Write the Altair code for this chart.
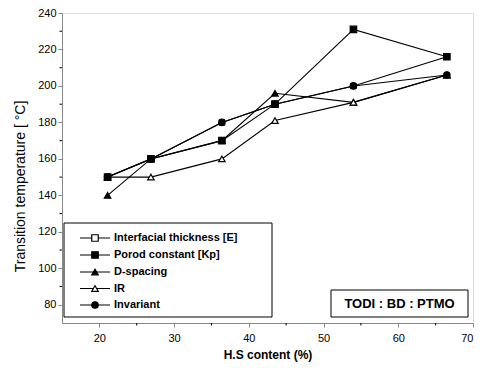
import altair as alt
import pandas as pd

# ---- data ----
hs_content = [21.1, 26.9, 36.4, 43.5, 54.0, 66.5]
series_names = ["Interfacial thickness [E]", "Porod constant [Kp]", "D-spacing", "IR", "Invariant"]
interfacial = [150, 160, 180, 190, 200, 216]
porod = [150, 160, 170, 190, 231, 216]
dspacing = [140, 160, 170, 196, 191, 206]
ir = [150, 150, 160, 181, 191, 206]
invariant = [150, 160, 180, 190, 200, 206]
shapes = ["square", "square", "triangle-up", "triangle-up", "circle"]
fills = ["white", "black", "black", "white", "black"]
marker_sizes = [24, 42, 42, 42, 42]

y_ticks = [80, 100, 120, 140, 160, 180, 200, 220, 240]
y_minor = [90, 110, 130, 150, 170, 190, 210, 230]
x_ticks = [20, 30, 40, 50, 60, 70]
x_minor = [25, 35, 45, 55, 65]
annotation = "TODI : BD : PTMO"

FONT = "Liberation Sans"
W, H = 411, 310

series_values = [interfacial, porod, dspacing, ir, invariant]

xs = alt.Scale(domain=[15, 70], nice=False, zero=False)
ys = alt.Scale(domain=[70, 240], nice=False, zero=False)
xax = alt.Axis(values=x_ticks, title="H.S content (%)", grid=False, tickSize=4,
               labelFontSize=11, titleFontSize=12, titleFontWeight="bold", titlePadding=6,
               labelPadding=5)
yax = alt.Axis(values=y_ticks, title="Transition temperature [ °C]", grid=False, tickSize=4,
               labelFontSize=11, titleFontSize=14, titleFontWeight="normal", titlePadding=10,
               labelPadding=2, titleY=173)

X = alt.X("x:Q", scale=xs, axis=xax)
Y = alt.Y("y:Q", scale=ys, axis=yax)

layers = []
# lines first, then markers (interfacial markers under the others)
for name, vals in zip(series_names, series_values):
    d = pd.DataFrame({"x": hs_content, "y": vals, "series": name})
    layers.append(alt.Chart(d).mark_line(color="black", strokeWidth=1.1).encode(x=X, y=Y, order="x:Q"))
for name, vals, shp, fl, sz in zip(series_names, series_values, shapes, fills, marker_sizes):
    d = pd.DataFrame({"x": hs_content, "y": vals, "series": name})
    layers.append(alt.Chart(d).mark_point(size=sz, opacity=1, stroke="black", strokeWidth=1.2,
                                          shape=shp, fill=fl, filled=False).encode(x=X, y=Y))

one = pd.DataFrame({"a": [0]})
layers.append(alt.Chart(pd.DataFrame({"y": y_minor})).mark_rule(color="black").encode(
    y=Y, x=alt.value(-2.5), x2=alt.value(0)))
layers.append(alt.Chart(pd.DataFrame({"x": x_minor})).mark_rule(color="black").encode(
    x=X, y=alt.value(H), y2=alt.value(H + 2.5)))

# legend box
layers.append(alt.Chart(one).mark_rect(fill="white", stroke="black", strokeWidth=1).encode(
    x=alt.value(2), x2=alt.value(210), y=alt.value(210), y2=alt.value(304)))
row_y = [225, 242, 259, 275.5, 292]
for name, shp, fl, ry in zip(series_names, shapes, fills, row_y):
    layers.append(alt.Chart(one).mark_rule(color="black", strokeWidth=1).encode(
        x=alt.value(18), x2=alt.value(48), y=alt.value(ry)))
    layers.append(alt.Chart(one).mark_point(size=42, opacity=1, stroke="black", strokeWidth=1.2,
                                            shape=shp, fill=fl, filled=False).encode(
        x=alt.value(33), y=alt.value(ry)))
    layers.append(alt.Chart(one).mark_text(align="left", baseline="middle", font=FONT,
                                           fontSize=11, fontWeight="bold", color="black",
                                           text=name).encode(
        x=alt.value(52), y=alt.value(ry)))

# annotation box
layers.append(alt.Chart(one).mark_rect(fill="white", stroke="black", strokeWidth=1).encode(
    x=alt.value(269), x2=alt.value(406), y=alt.value(277), y2=alt.value(304)))
layers.append(alt.Chart(one).mark_text(align="center", baseline="middle", font=FONT,
                                       fontSize=13, fontWeight="bold", color="black",
                                       text=annotation).encode(
    x=alt.value(337.5), y=alt.value(291)))

chart = alt.layer(*layers).properties(
    width=W, height=H,
    autosize=alt.AutoSizeParams(type="none"),
    padding={"left": 62, "top": 13, "right": 7, "bottom": 45},
).configure_view(stroke="black", strokeWidth=1.5).configure_axis(
    labelFont=FONT, titleFont=FONT, labelColor="black", titleColor="black",
    domainColor="black", tickColor="black", domainWidth=1.5, tickWidth=1.2,
).configure(background="white")

chart.save("out.html", embed_options={"renderer": "svg", "actions": False})
